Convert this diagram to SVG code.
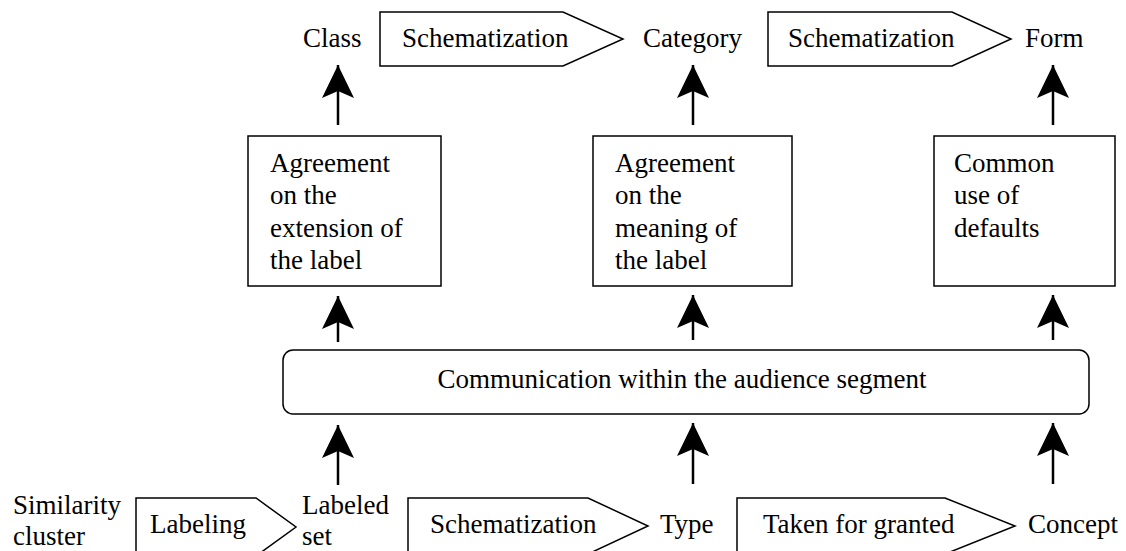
<svg xmlns="http://www.w3.org/2000/svg" width="1126" height="551" viewBox="0 0 1126 551">
<style>
  text { font-family: "Liberation Serif", "Times New Roman", serif; font-size: 27px; fill: #000; }
  .shape { fill: #fff; stroke: #000; stroke-width: 1.5; }
  .conn { stroke: #000; stroke-width: 2.5; fill: none; marker-end: url(#arrow); }
</style>
<defs>
  <marker id="arrow" markerUnits="userSpaceOnUse" markerWidth="40" markerHeight="40" viewBox="-36 -20 40 40" refX="0" refY="0" orient="auto">
    <path d="M0,0 L-33,-16 L-26,0 L-33,16 Z" fill="#000"/>
  </marker>
</defs>
<rect width="1126" height="551" fill="#fff"/>

<g id="top-row">
  <g id="class"><text x="303" y="47">Class</text></g>
  <g id="schematization-top-1">
    <polygon class="shape" points="380,12 563,12 623,39 563,66 380,66"/>
    <text x="402" y="47">Schematization</text>
  </g>
  <g id="category"><text x="643" y="47">Category</text></g>
  <g id="schematization-top-2">
    <polygon class="shape" points="768,12 952,12 1011,39 952,66 768,66"/>
    <text x="788" y="47">Schematization</text>
  </g>
  <g id="form"><text x="1025" y="47">Form</text></g>
</g>

<g id="box-extension">
  <rect class="shape" x="248" y="136" width="193" height="150"/>
  <text x="270" y="172">Agreement</text>
  <text x="270" y="204">on the</text>
  <text x="270" y="237">extension of</text>
  <text x="270" y="269">the label</text>
</g>
<g id="box-meaning">
  <rect class="shape" x="593" y="136" width="199" height="150"/>
  <text x="615" y="172">Agreement</text>
  <text x="615" y="204">on the</text>
  <text x="615" y="237">meaning of</text>
  <text x="615" y="269">the label</text>
</g>
<g id="box-defaults">
  <rect class="shape" x="934" y="136" width="181" height="150"/>
  <text x="954" y="172">Common</text>
  <text x="954" y="204">use of</text>
  <text x="954" y="237">defaults</text>
</g>

<g id="communication">
  <rect class="shape" x="283" y="350" width="806" height="64" rx="10" ry="10"/>
  <text x="682" y="388" text-anchor="middle">Communication within the audience segment</text>
</g>

<g id="bottom-row">
  <g id="similarity-cluster">
    <text x="13" y="514">Similarity</text>
    <text x="13" y="545">cluster</text>
  </g>
  <g id="labeling">
    <polygon class="shape" points="136,498 256,498 296,527 256,556 136,556"/>
    <text x="150" y="533">Labeling</text>
  </g>
  <g id="labeled-set">
    <text x="302" y="514">Labeled</text>
    <text x="302" y="545">set</text>
  </g>
  <g id="schematization-bottom">
    <polygon class="shape" points="408,498 588,498 648,526 588,554 408,554"/>
    <text x="430" y="533">Schematization</text>
  </g>
  <g id="type"><text x="660" y="533">Type</text></g>
  <g id="taken-for-granted">
    <polygon class="shape" points="737,498 945,498 1015,526 945,554 737,554"/>
    <text x="763" y="533">Taken for granted</text>
  </g>
  <g id="concept"><text x="1028" y="533">Concept</text></g>
</g>

<g id="connectors">
  <line class="conn" x1="338" y1="125" x2="338" y2="65"/>
  <line class="conn" x1="693" y1="125" x2="693" y2="65"/>
  <line class="conn" x1="1053" y1="125" x2="1053" y2="65"/>
  <line class="conn" x1="338" y1="342" x2="338" y2="296"/>
  <line class="conn" x1="693" y1="340" x2="693" y2="295"/>
  <line class="conn" x1="1053" y1="340" x2="1053" y2="295"/>
  <line class="conn" x1="338" y1="485" x2="338" y2="425"/>
  <line class="conn" x1="693" y1="484" x2="693" y2="423"/>
  <line class="conn" x1="1053" y1="484" x2="1053" y2="423"/>
</g>
</svg>
